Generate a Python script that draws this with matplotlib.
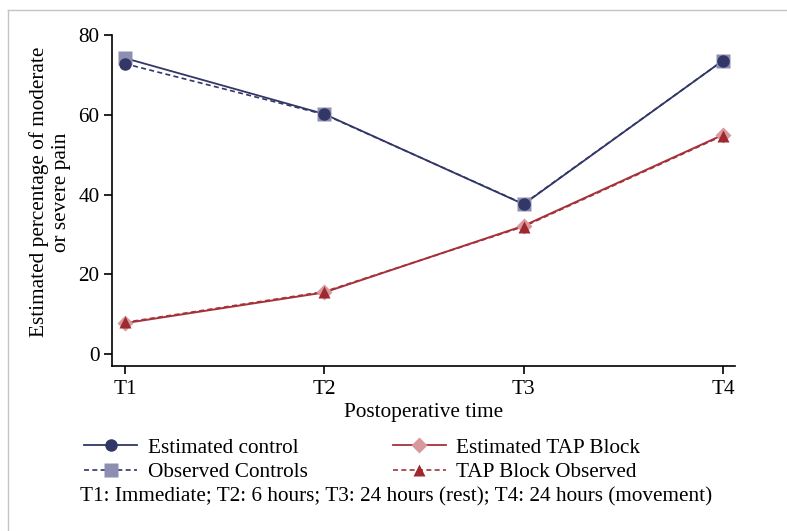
import matplotlib
matplotlib.use("Agg")
import matplotlib.pyplot as plt
from matplotlib.lines import Line2D

plt.rcParams['font.family'] = ['Liberation Serif', 'DejaVu Serif']

times = ["T1", "T2", "T3", "T4"]
est_control = [72.8, 60.1, 37.7, 73.6]
obs_control = [74.2, 60.2, 37.6, 73.6]
est_tap = [7.8, 15.5, 32.2, 55.0]
obs_tap = [8.0, 15.7, 32.0, 54.8]

NAVY = "#323767"
SQ = "#8c8fb0"
RED = "#a5323a"
PINK = "#d9999c"
DRED = "#9e2a30"
FS = 15.3

fig = plt.figure(figsize=(7.87, 5.31), dpi=100)
ax = fig.add_axes([112/787, 1-366/531, (735-112)/787, (366-35)/531])
x = list(range(len(times)))

# lines
ax.plot(x, est_control, color=NAVY, lw=1.2, ls=(0, (3, 2)), zorder=2)
ax.plot(x, obs_control, color=NAVY, lw=1.3, ls='-', zorder=2)
ax.plot(x, obs_tap, color=RED, lw=1.2, ls=(0, (3, 2)), zorder=2)
ax.plot(x, est_tap, color=RED, lw=1.4, ls='-', zorder=2)
# markers
ax.plot(x, obs_control, ls='none', marker='s', ms=10, color=SQ, mec='none', zorder=3)
ax.plot(x, est_control, ls='none', marker='o', ms=9, color=NAVY, mec='none', zorder=4)
ax.plot(x, est_tap, ls='none', marker='D', ms=8.5, color=PINK, mec='none', zorder=3)
ax.plot(x, obs_tap, ls='none', marker='^', ms=9, color=DRED, mec='none', zorder=4)

x0 = -13/199.3
ax.set_xlim(x0, 3 + 12/199.3)
ax.set_ylim(-2.93, 80)
ax.set_xticks(x)
ax.set_xticklabels(times)
ax.set_yticks([0, 20, 40, 60, 80])
ax.spines['top'].set_visible(False)
ax.spines['right'].set_visible(False)
for s in ('left', 'bottom'):
    ax.spines[s].set_linewidth(1.2)
    ax.spines[s].set_color('black')
ax.tick_params(axis='both', length=6, width=1.2, labelsize=FS, pad=3)
ax.tick_params(axis='x', pad=4)
ax.set_xlabel("Postoperative time", fontsize=FS, labelpad=3)
ax.set_ylabel("Estimated percentage of moderate\nor severe pain", fontsize=FS, labelpad=5.4, linespacing=1.2)
ax.yaxis.label.set_y(0.525)

handles = [
    Line2D([], [], color=NAVY, lw=1.3, ls='-', marker='o', ms=9, mfc=NAVY, mec='none'),
    Line2D([], [], color=NAVY, lw=1.2, ls=(0, (3, 2)), marker='s', ms=10, mfc=SQ, mec='none'),
    Line2D([], [], color=RED, lw=1.3, ls='-', marker='D', ms=8.5, mfc=PINK, mec='none'),
    Line2D([], [], color=RED, lw=1.2, ls=(0, (3, 2)), marker='^', ms=9, mfc=DRED, mec='none'),
]
labels = ["Estimated control", "Observed Controls", "Estimated TAP Block", "TAP Block Observed"]
fig.legend(handles, labels, ncol=2, loc='upper left', bbox_to_anchor=(84/787, 1-438/531),
           frameon=False, fontsize=FS, handlelength=2.5, handletextpad=0.5,
           columnspacing=4.0, borderpad=0, borderaxespad=0, labelspacing=0.2)

fig.text(80/787, 1-497/531, "T1: Immediate; T2: 6 hours; T3: 24 hours (rest); T4: 24 hours (movement)",
         fontsize=FS, va='center', ha='left')

# outer frame lines (left, top)
fig.add_artist(Line2D([8/787, 8/787], [0, 1-10/531], transform=fig.transFigure, color='#c4c4c4', lw=1))
fig.add_artist(Line2D([8/787, 1], [1-10/531, 1-10/531], transform=fig.transFigure, color='#c4c4c4', lw=1))

fig.savefig("out.png", dpi=100)
